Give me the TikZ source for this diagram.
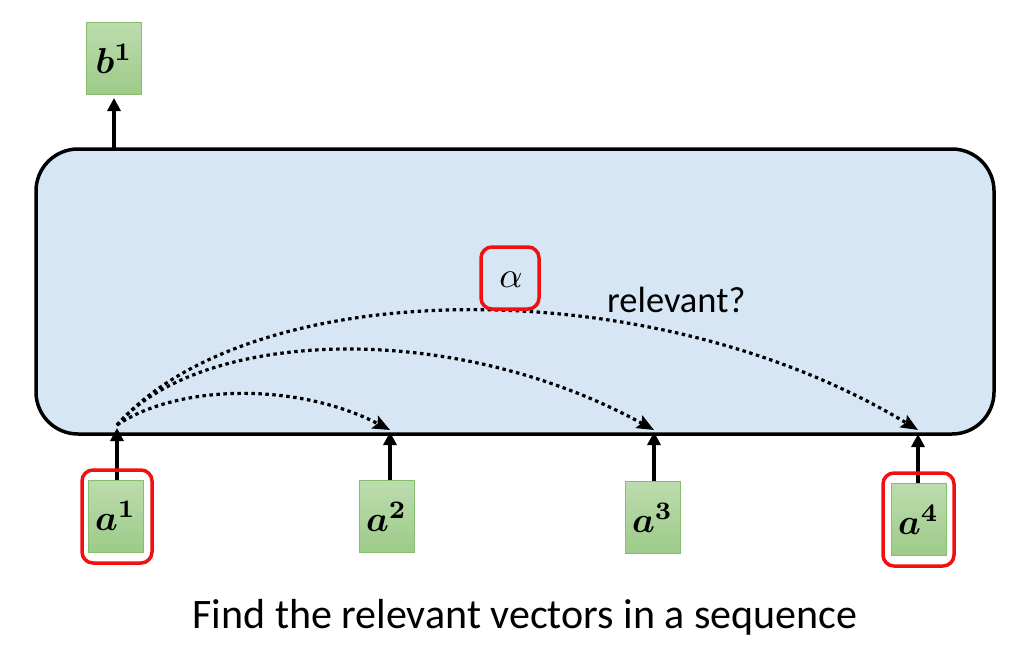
\documentclass[tikz,border=0pt]{standalone}
\usepackage{bm}
\usepackage{fontspec}
\setmainfont{Carlito}
\usetikzlibrary{arrows.meta}
\definecolor{panelblue}{HTML}{D6E6F5}
\definecolor{gtop}{HTML}{BCDCAE}
\definecolor{gbot}{HTML}{9DCB88}
\definecolor{gline}{HTML}{88BC70}
\definecolor{hred}{HTML}{F01010}
\newcommand{\veclab}[2]{\scalebox{3.6}{$\bm{#1}^{\bm{#2}}$}}
\tikzset{
  vecbox/.style={draw=gline, line width=0.8pt, top color=gtop, bottom color=gbot,
    minimum width=55pt, minimum height=72pt, inner sep=0pt},
  redframe/.style={draw=hred, line width=3.5pt, rounded corners=11pt, fill=none},
  solidarrow/.style={line width=3.5pt, -{Triangle[length=13pt,width=13pt]}},
  dotarrow/.style={line width=3.2pt, dash pattern=on 3.5pt off 3.5pt, -{Stealth[length=17pt,width=14pt,inset=3pt]}},
}
\begin{document}
\begin{tikzpicture}[x=1pt,y=-1pt]
\useasboundingbox (0,0) rectangle (1027,651);
% main panel
\node[draw=black, line width=3.5pt, fill=panelblue, rounded corners=42pt,
  minimum width=958pt, minimum height=285pt, inner sep=0pt] (panel) at (515,291.5) {};
% output
\node[vecbox] (b1) at (114,58.5) {\veclab{b}{1}};
\coordinate (bstart) at (114,148);
\draw[solidarrow] (bstart) -- (b1.south |- 0,98);
% inputs
\node[vecbox] (a1) at (115.5,516) {\veclab{a}{1}};
\node[vecbox] (a2) at (386.5,516.5) {\veclab{a}{2}};
\node[vecbox] (a3) at (652.5,517.5) {\veclab{a}{3}};
\node[vecbox] (a4) at (918.5,519.5) {\veclab{a}{4}};
\coordinate (t1) at (117,428);
\coordinate (t2) at (390,432);
\coordinate (t3) at (654,432);
\coordinate (t4) at (918,434);
\draw[solidarrow] (a1.north -| t1) -- (t1);
\draw[solidarrow] (a2.north -| t2) -- (t2);
\draw[solidarrow] (a3.north -| t3) -- (t3);
\draw[solidarrow] (a4.north -| t4) -- (t4);
% red highlight frames
\node[redframe, minimum width=70pt, minimum height=93pt] (h1) at (117,516.5) {};
\node[redframe, minimum width=71pt, minimum height=93pt] (h4) at (918.5,519.5) {};
% dotted attention curves
\coordinate (src) at (117,425);
\draw[dotarrow] (src) .. controls (180,383) and (300,383) .. (t2 |- 0,430);
\draw[dotarrow] (src) .. controls (200,330) and (450,318) .. (t3 |- 0,430);
\draw[dotarrow] (src) .. controls (250,275) and (650,268) .. (t4 |- 0,430);
% alpha
\node[redframe, minimum width=58pt, minimum height=62pt] (alphabox) at (510,278) {};
\node (alpha) at (511,280) {\scalebox{3.6}{$\alpha$}};
\node[font=\fontsize{36.5}{42}\selectfont, anchor=west, inner sep=0pt] (rel) at (607,300) {relevant?};
% caption
\node[font=\fontsize{42}{48}\selectfont, inner sep=0pt] (cap) at (525,617) {Find the relevant vectors in a sequence};
\end{tikzpicture}
\end{document}
